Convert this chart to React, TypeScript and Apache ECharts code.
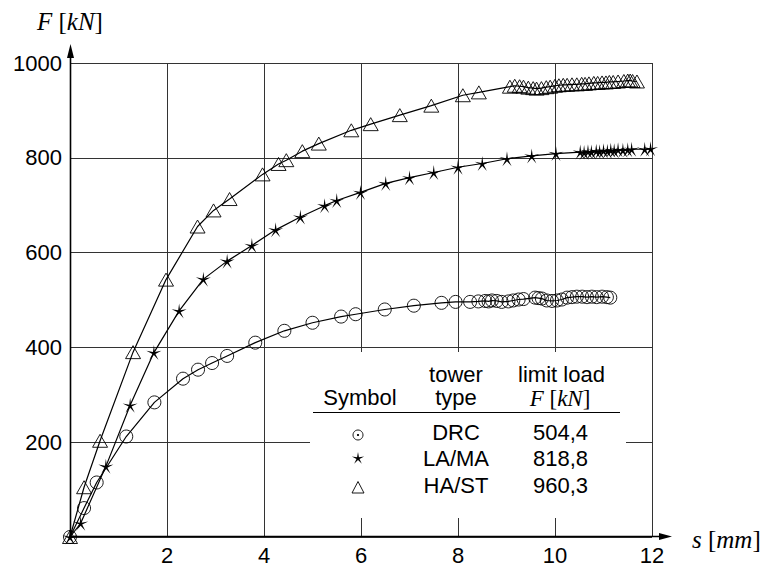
import React, { useEffect, useRef } from "react";
import * as echarts from "echarts";

// ---------- data ----------
const xTickValues = [0, 2, 4, 6, 8, 10, 12];
const yTickValues = [0, 200, 400, 600, 800, 1000];

const drcS = [0, 0.29, 0.55, 1.16, 1.74, 2.33, 2.64, 2.93, 3.24, 3.82, 4.42, 5.0, 5.59, 5.89, 6.49, 7.09, 7.66, 7.95,
  8.25, 8.42, 8.56, 8.63, 8.7, 8.8, 8.9, 9.04, 9.14, 9.25, 9.35, 9.59, 9.66, 9.73, 9.83, 9.94, 10.04, 10.14, 10.25,
  10.35, 10.45, 10.56, 10.66, 10.76, 10.86, 10.97, 11.07, 11.14];
const drcF = [0, 61, 115, 212, 284, 334, 353, 367, 382, 410, 435, 452, 465, 470, 480, 488, 494, 496,
  496, 497, 498, 497, 499, 498, 496, 497, 499, 501, 502, 505, 504, 503, 499, 498, 499, 501, 505,
  506, 507, 507, 506, 507, 506, 507, 506, 505];

const lamaS = [0, 0.22, 0.74, 1.24, 1.73, 2.25, 2.75, 3.24, 3.75, 4.24, 4.75, 5.25, 5.5, 5.99, 6.51, 7.0, 7.5, 8.0,
  8.5, 9.01, 9.52, 10.02, 10.52, 10.6, 10.68, 10.75, 10.85, 10.92, 11.0, 11.08, 11.15, 11.22, 11.3, 11.4, 11.5,
  11.58, 11.85, 11.97];
const lamaF = [0, 29, 149, 278, 389, 477, 544, 582, 615, 648, 675, 699, 710, 727, 746, 758, 769, 780,
  788, 798, 804, 809, 812, 811, 813, 812, 814, 813, 815, 814, 816, 815, 817, 816, 817,
  818, 818, 819];

const hastS = [0, 0.29, 0.62, 1.3, 1.98, 2.63, 2.96, 3.29, 3.97, 4.3, 4.46, 4.79, 5.13, 5.8, 6.2, 6.8, 7.45, 8.1,
  8.43, 9.07, 9.17, 9.27, 9.35, 9.45, 9.55, 9.62, 9.72, 9.82, 9.9, 10.0, 10.08, 10.17, 10.25, 10.35, 10.45, 10.55,
  10.62, 10.7, 10.8, 10.88, 10.97, 11.05, 11.12, 11.2, 11.3, 11.42, 11.5, 11.55, 11.6, 11.69];
const hastF = [0, 105, 203, 390, 543, 655, 689, 713, 765, 787, 795, 814, 830, 858, 871, 890, 910, 932,
  938, 950, 952, 951, 950, 948, 947, 946, 947, 949, 950, 952, 953, 954, 954, 955, 955, 956,
  956, 957, 958, 958, 959, 959, 960, 960, 961, 962, 963, 963, 962, 961];

const towerTypes = ["DRC", "LA/MA", "HA/ST"];
const limitLoads = ["504,4", "818,8", "960,3"];

// ---------- layout ----------
const W = 762;
const H = 569;
const GL = 70, GR = 652, GT = 63, GB = 537;
const SANS = "Liberation Sans, Arial, sans-serif";
const SERIF = "Liberation Serif, Times New Roman, serif";
const FS = 22;

function starPts(cx: number, cy: number, ro: number, ri: number): number[][] {
  const pts: number[][] = [];
  for (let i = 0; i < 10; i++) {
    const r = i % 2 === 0 ? ro : ri;
    const a = -Math.PI / 2 + (i * Math.PI) / 5;
    pts.push([cx + r * Math.cos(a), cy + r * Math.sin(a)]);
  }
  return pts;
}
const starPath =
  "path://" +
  starPts(0, 0, 10, 2.0)
    .map((p, i) => (i === 0 ? "M" : "L") + p[0].toFixed(3) + "," + p[1].toFixed(3))
    .join("") +
  "Z";

const pair = (s: number[], f: number[]) => s.map((v, i) => [v, f[i]]);

export default function App() {
  const ref = useRef<HTMLDivElement>(null);
  useEffect(() => {
    if (!ref.current) return;
    const chart = echarts.init(ref.current, null, { renderer: "svg" });
    const mathText = (x: number, y: number, parts: string, align: string, size: number) => ({
      type: "text",
      x,
      y,
      z: 20,
      style: {
        text: parts,
        fill: "#000",
        fontFamily: SERIF,
        fontSize: size,
        align,
        verticalAlign: "middle",
        rich: {
          i: { fontStyle: "italic", fontFamily: SERIF, fontSize: size, fill: "#000" },
        },
      },
    });
    const txt = (x: number, y: number, t: string) => ({
      type: "text",
      x,
      y,
      z: 20,
      style: { text: t, fill: "#000", fontFamily: SANS, fontSize: FS, align: "center", verticalAlign: "middle" },
    });
    const rowY = [432, 458.5, 485];
    const symX = 358;
    const legend: any[] = [
      { type: "rect", z: 10, shape: { x: 310, y: 352, width: 316, height: 166 }, style: { fill: "#fff" } },
      txt(360, 397, "Symbol"),
      txt(456, 374, "tower"),
      txt(456, 397, "type"),
      txt(561.5, 374, "limit load"),
      mathText(560, 398, "{i|F} [{i|kN}]", "center", 23),
      { type: "line", z: 20, shape: { x1: 313, y1: 412.5, x2: 620, y2: 412.5 }, style: { stroke: "#000", lineWidth: 1.2 } },
      { type: "circle", z: 20, shape: { cx: symX, cy: 435, r: 5 }, style: { fill: "none", stroke: "#000", lineWidth: 0.9 } },
      { type: "circle", z: 20, shape: { cx: symX, cy: 435, r: 1.1 }, style: { fill: "#000" } },
      { type: "polygon", z: 20, shape: { points: starPts(symX, 458.5, 6.5, 1.6) }, style: { fill: "#000" } },
      {
        type: "polygon",
        z: 20,
        shape: { points: [[symX, 481.5], [symX - 6, 493], [symX + 6, 493]] },
        style: { fill: "none", stroke: "#000", lineWidth: 0.9 },
      },
    ];
    towerTypes.forEach((t, i) => legend.push(txt(456, rowY[i], t)));
    limitLoads.forEach((t, i) => legend.push(txt(560.5, rowY[i], t)));

    const axesG: any[] = [
      { type: "line", z: 30, shape: { x1: GL + 0.5, y1: GB, x2: GL + 0.5, y2: 52 }, style: { stroke: "#000", lineWidth: 1.6 } },
      { type: "polygon", z: 30, shape: { points: [[GL + 0.5, 44], [GL - 3, 58], [GL + 4, 58]] }, style: { fill: "#000" } },
      { type: "line", z: 30, shape: { x1: GL, y1: GB - 0.5, x2: 664, y2: GB - 0.5 }, style: { stroke: "#000", lineWidth: 1.6 } },
      { type: "polygon", z: 30, shape: { points: [[672, GB - 0.5], [659, GB - 4], [659, GB + 3]] }, style: { fill: "#000" } },
      mathText(37, 21, "{i|F} [{i|kN}]", "left", 25),
      mathText(692, 539, "{i|s} [{i|mm}]", "left", 25),
    ];

    const lineStyle = { color: "#000", width: 1.2 };
    const hollow = { color: "rgba(0,0,0,0)", borderColor: "#000", borderWidth: 0.9 };

    chart.setOption({
      animation: false,
      backgroundColor: "#fff",
      grid: { left: GL, right: W - GR, top: GT, bottom: H - GB, containLabel: false },
      xAxis: {
        type: "value",
        min: xTickValues[0],
        max: xTickValues[xTickValues.length - 1],
        interval: 2,
        axisLine: { show: false },
        axisTick: { show: false },
        axisLabel: {
          margin: 7,
          color: "#000",
          fontFamily: SANS,
          fontSize: FS,
          formatter: (v: number) => (v === 0 ? "" : String(v)),
        },
        splitLine: { show: true, lineStyle: { color: "#333", width: 1 } },
      },
      yAxis: {
        type: "value",
        min: yTickValues[0],
        max: yTickValues[yTickValues.length - 1],
        interval: 200,
        axisLine: { show: false },
        axisTick: { show: false },
        axisLabel: {
          margin: 8,
          color: "#000",
          fontFamily: SANS,
          fontSize: FS,
          formatter: (v: number) => (v === 0 ? "" : String(v)),
        },
        splitLine: { show: true, lineStyle: { color: "#333", width: 1 } },
      },
      series: [
        {
          type: "line",
          name: "DRC",
          data: pair(drcS, drcF),
          symbol: "circle",
          symbolSize: 13,
          showAllSymbol: true,
          clip: false,
          lineStyle,
          itemStyle: hollow,
          emphasis: { disabled: true },
        },
        {
          type: "line",
          name: "LA/MA",
          data: pair(lamaS, lamaF),
          symbol: starPath,
          symbolSize: 15,
          showAllSymbol: true,
          clip: false,
          lineStyle,
          itemStyle: { color: "#000" },
          emphasis: { disabled: true },
        },
        {
          type: "line",
          name: "HA/ST",
          data: pair(hastS, hastF),
          symbol: "triangle",
          symbolSize: [15, 13],
          showAllSymbol: true,
          clip: false,
          lineStyle,
          itemStyle: hollow,
          emphasis: { disabled: true },
        },
      ],
      graphic: [...legend, ...axesG],
    });
    return () => chart.dispose();
  }, []);
  return <div ref={ref} style={{ width: W, height: H, position: "absolute", left: 0, top: 0 }} />;
}
